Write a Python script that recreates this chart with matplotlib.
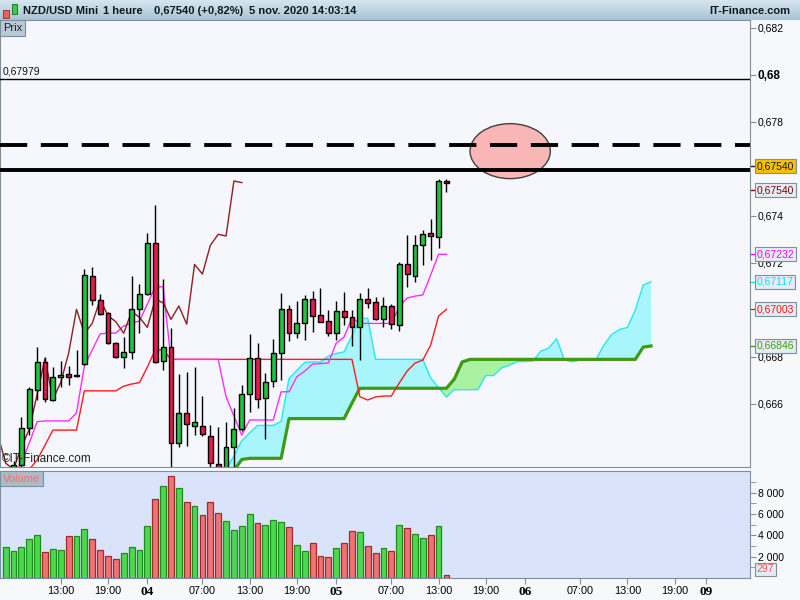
import numpy as np
import matplotlib
matplotlib.use('Agg')
import matplotlib.pyplot as plt
from matplotlib.patches import Ellipse, Rectangle

plt.rcParams['font.family'] = ['Liberation Sans', 'DejaVu Sans']

# hourly candles, 03 nov 06:00 -> 05 nov 14:00 (index 0..56)
opens = [0.6630, 0.6630, 0.6634, 0.66497, 0.66657, 0.66778, 0.66615, 0.66712, 0.66726, 0.66718,
         0.66767, 0.67143, 0.67040, 0.66984, 0.66856, 0.66799, 0.66821, 0.67001, 0.67065, 0.67284,
         0.66782, 0.66839, 0.66431, 0.66561, 0.66506, 0.66506, 0.66460, 0.66342, 0.66300, 0.66414,
         0.66490, 0.66639, 0.66792, 0.66622, 0.66694, 0.66814, 0.67001, 0.66899, 0.66941, 0.67043,
         0.66975, 0.66951, 0.66899, 0.66992, 0.66969, 0.66924, 0.67043, 0.67031, 0.66958, 0.67015,
         0.66934, 0.67192, 0.67144, 0.67273, 0.67324, 0.67310, 0.67547]
highs = [0.6633, 0.66355, 0.66544, 0.66672, 0.66842, 0.66799, 0.66757, 0.66781, 0.66761, 0.66828,
         0.67172, 0.67180, 0.67065, 0.66990, 0.66860, 0.66884, 0.67143, 0.67109, 0.67324, 0.67445,
         0.67130, 0.66920, 0.66726, 0.66734, 0.66757, 0.66632, 0.66509, 0.66499, 0.66520, 0.66580,
         0.66679, 0.66896, 0.66856, 0.66728, 0.66873, 0.67069, 0.67019, 0.67036, 0.67062, 0.67079,
         0.67093, 0.66998, 0.67036, 0.67074, 0.66998, 0.67069, 0.67090, 0.67052, 0.67052, 0.67023,
         0.67203, 0.67317, 0.67317, 0.67338, 0.67384, 0.67554, 0.67555]
lows = [0.6626, 0.6628, 0.6630, 0.66466, 0.66615, 0.66608, 0.66610, 0.66672, 0.66679, 0.66715,
        0.66765, 0.67019, 0.66975, 0.66853, 0.66795, 0.66752, 0.66789, 0.66901, 0.67060, 0.66771,
        0.66743, 0.66300, 0.66416, 0.66420, 0.66466, 0.66460, 0.66300, 0.66290, 0.66280, 0.66300,
        0.66485, 0.66565, 0.66582, 0.66448, 0.66672, 0.66700, 0.66867, 0.66877, 0.66870, 0.66906,
        0.66945, 0.66889, 0.66870, 0.66934, 0.66845, 0.66785, 0.67008, 0.66955, 0.66927, 0.66917,
        0.66910, 0.67097, 0.67118, 0.67189, 0.67211, 0.67260, 0.67500]
closes = [0.6632, 0.6634, 0.66497, 0.66662, 0.66778, 0.66618, 0.66714, 0.66720, 0.66714, 0.66718,
          0.67147, 0.67040, 0.66979, 0.66859, 0.66797, 0.66821, 0.67002, 0.67066, 0.67284, 0.66778,
          0.66839, 0.66431, 0.66558, 0.66513, 0.66520, 0.66469, 0.66346, 0.66321, 0.66414, 0.66490,
          0.66639, 0.66792, 0.66618, 0.66690, 0.66814, 0.67001, 0.66899, 0.66941, 0.67043, 0.66974,
          0.66948, 0.66899, 0.66992, 0.66967, 0.66924, 0.67043, 0.67029, 0.66958, 0.67015, 0.66938,
          0.67192, 0.67151, 0.67273, 0.67320, 0.67313, 0.67547, 0.67540]
volumes = [2880, 2500, 2880, 3625, 4000, 2410, 2690, 2625, 3910, 3910,
           4560, 3625, 2600, 2030, 1750, 2310, 2880, 2600, 4845, 7380,
           8595, 9530, 8410, 7095, 6720, 5875, 7095, 6065, 5315, 4470,
           4845, 5970, 5125, 4940, 5410, 5220, 4750, 3065, 2500, 3250,
           2030, 1940, 2780, 3250, 4375, 4280, 2970, 2310, 2780, 2500,
           4940, 4660, 4100, 3720, 4000, 4845, 297]

# ichimoku lines
tenkan = [0.6628, 0.6630, 0.66347, 0.66432, 0.66523, 0.66526, 0.66526, 0.66526, 0.66526, 0.66560,
          0.66760, 0.66828, 0.66896, 0.66900, 0.66900, 0.66930, 0.66943, 0.66951, 0.67023, 0.67096,
          0.67097, 0.66788, 0.66788, 0.66788, 0.66788, 0.66788, 0.66788, 0.66788, 0.66629, 0.66547,
          0.66466, 0.66530, 0.66530, 0.66530, 0.66530, 0.66650, 0.66650, 0.66714, 0.66738, 0.66768,
          0.66770, 0.66773, 0.66857, 0.66883, 0.66964, 0.66941, 0.66941, 0.66941, 0.66941, 0.66941,
          0.67011, 0.67049, 0.67057, 0.67062, 0.67147, 0.67235, 0.67235]
kijun = [0.6626, 0.6628, 0.6630, 0.6632, 0.66360, 0.66423, 0.66487, 0.66487, 0.66487, 0.66487,
         0.66654, 0.66654, 0.66654, 0.66654, 0.66654, 0.66674, 0.66683, 0.66689, 0.66755, 0.66828,
         0.66828, 0.66788, 0.66788, 0.66788, 0.66788, 0.66788, 0.66788, 0.66788, 0.66788, 0.66788,
         0.66788, 0.66788, 0.66788, 0.66788, 0.66788, 0.66788, 0.66788, 0.66788, 0.66788, 0.66788,
         0.66788, 0.66788, 0.66788, 0.66788, 0.66788, 0.66629, 0.66615, 0.66628, 0.66632, 0.66632,
         0.66687, 0.66738, 0.66772, 0.66785, 0.66849, 0.66972, 0.67001]
chikou_start = -1
chikou = [0.66469, 0.66346, 0.66321, 0.66414, 0.66490, 0.66639, 0.66792, 0.66618, 0.66690, 0.66814,
          0.67001, 0.66899, 0.66941, 0.67043, 0.66974, 0.66948, 0.66899, 0.66992, 0.66967, 0.66924,
          0.67043, 0.67029, 0.66958, 0.67015, 0.66938, 0.67192, 0.67151, 0.67273, 0.67320, 0.67313,
          0.67547, 0.67540]
span_a_start = 26
span_a = [0.6627, 0.6629, 0.66324, 0.66376, 0.66442, 0.66475, 0.66507, 0.66507, 0.66507, 0.66524,
          0.66707, 0.66741, 0.66775, 0.66777, 0.66777, 0.66802, 0.66813, 0.66820, 0.66889, 0.66962,
          0.66963, 0.66788, 0.66788, 0.66788, 0.66788, 0.66788, 0.66788, 0.66788, 0.66709, 0.66668,
          0.66627, 0.66659, 0.66659, 0.66659, 0.66659, 0.66719, 0.66719, 0.66751, 0.66763, 0.66778,
          0.66779, 0.66781, 0.66823, 0.66836, 0.66876, 0.66785, 0.66778, 0.66785, 0.66787, 0.66787,
          0.66849, 0.66894, 0.66915, 0.66924, 0.66998, 0.67104, 0.67118]
span_b_start = 28
span_b = [0.6628, 0.66315, 0.66362, 0.66367, 0.66367, 0.66367, 0.66367, 0.66367,
          0.66536, 0.66536, 0.66536, 0.66536, 0.66536, 0.66536, 0.66536, 0.66536,
          0.66602, 0.66665, 0.66665, 0.66665, 0.66665, 0.66665, 0.66665, 0.66665, 0.66665,
          0.66665, 0.66665, 0.66665, 0.66665, 0.66704, 0.66777,
          0.66788, 0.66788, 0.66788, 0.66788, 0.66788, 0.66788, 0.66788, 0.66788, 0.66788, 0.66788,
          0.66788, 0.66788, 0.66788, 0.66788, 0.66788, 0.66788, 0.66788, 0.66788, 0.66788, 0.66788,
          0.66788, 0.66788, 0.66840, 0.66845]

# drawn levels
level_top = 0.67979
level_dash = 0.67700
level_solid = 0.67594
circle_center = (64.1, 0.67674)

tick_pos = [7, 13, 18, 25, 31, 37, 42, 49, 55, 61, 66, 73, 79, 85, 89]
tick_lab = ['13:00', '19:00', '04', '07:00', '13:00', '19:00', '05', '07:00', '13:00', '19:00',
            '06', '07:00', '13:00', '19:00', '09']
day_labels = ['04', '05', '06', '09']

price_ticks = [0.682, 0.680, 0.678, 0.674, 0.672, 0.668, 0.666]
price_tick_lab = ['0,682', '0,68', '0,678', '0,674', '0,672', '0,668', '0,666']
vol_ticks = [2000, 4000, 6000, 8000]
vol_tick_lab = ['2 000', '4 000', '6 000', '8 000']

x = np.arange(len(closes))
o = np.array(opens); c = np.array(closes)
up = c >= o

W, H = 800, 600
fig = plt.figure(figsize=(8, 6), dpi=100, facecolor='#f7f8fa')
border = '#7d8e9c'

# title bar
tb = fig.add_axes([0, 1 - 20 / H, 1, 20 / H])
grad = np.linspace(0, 1, 50).reshape(-1, 1)
tb.imshow(grad, aspect='auto', cmap=matplotlib.colors.LinearSegmentedColormap.from_list('t', ['#d6e6f0', '#a9c4d3']),
          extent=[0, 1, 0, 1])
tb.set_xlim(0, 1); tb.set_ylim(0, 1); tb.axis('off')
tb.add_patch(Rectangle((3 / W, 0.12), 6 / W, 0.38, facecolor='#f06060', edgecolor='#803030', lw=0.6))
tb.add_patch(Rectangle((12 / W, 0.3), 5 / W, 0.5, facecolor='#30d040', edgecolor='#206020', lw=0.6))
for xp, s in [(23, 'NZD/USD Mini'), (103, '1 heure'), (154, '0,67540 (+0,82%)'), (249, '5 nov. 2020 14:03:14')]:
    tb.text(xp / W, 0.47, s, fontsize=8, fontweight='bold', color='#101820', va='center')
tb.text(790 / W, 0.47, 'IT-Finance.com', fontsize=8, fontweight='bold', color='#101820', va='center', ha='right')

# price panel
ax = fig.add_axes([0, 1 - 467 / H, 750 / W, (467 - 20) / H])
ax.set_facecolor('#f5f7fd')
ax.set_xlim(-0.72, 94.57)
ax.set_ylim(0.66330, 0.68232)

xa = np.arange(span_a_start, span_a_start + len(span_a))
xb = np.arange(span_b_start, span_b_start + len(span_b))
a_al = np.array(span_a[span_b_start - span_a_start:])
b_al = np.array(span_b)
ax.fill_between(xb, a_al, b_al, where=a_al >= b_al, interpolate=True, color='#a8f5fb', lw=0, zorder=1)
ax.fill_between(xb, a_al, b_al, where=a_al < b_al, interpolate=True, color='#a9f2a2', lw=0, zorder=1)
ax.plot(xa, span_a, color='#28e6f2', lw=1, zorder=2)
ax.plot(xb, span_b, color='#3e9a12', lw=2.3, zorder=2)
ax.plot(x, kijun, color='#ff1c1c', lw=1, zorder=2)
ax.plot(x, tenkan, color='#ff2cff', lw=1, zorder=2)
ax.plot(np.arange(chikou_start, chikou_start + len(chikou)), chikou, color='#8e1f1f', lw=1, zorder=2)

# candles
ax.vlines(x, lows, highs, color='black', lw=1, zorder=3)
body_h = np.maximum(np.abs(c - o), 0.00003)
ax.bar(x, body_h, bottom=np.minimum(o, c), width=0.62,
       color=np.where(up, '#1ec63e', '#e8194c'), edgecolor='black', lw=1, zorder=4)

# drawn objects
ax.add_patch(Ellipse(circle_center, 10.2, 0.00234, facecolor='#f8b6b6', edgecolor='#404040', lw=1, zorder=5))
ax.axhline(level_top, color='black', lw=1, zorder=6)
ax.axhline(level_dash, color='black', lw=2.8, ls=(0, (7, 3.5)), zorder=6)
ax.axhline(level_solid, color='black', lw=2.8, zorder=6)
ax.text(0.003, level_top + 0.00012, '0,67979', transform=ax.get_yaxis_transform(),
        fontsize=7.5, color='#101010', va='bottom')
ax.text(0.003, 0.663395, '©IT-Finance.com', transform=ax.get_yaxis_transform(), fontsize=8.5,
        color='#202020', va='bottom', zorder=7)

ax.yaxis.tick_right()
ax.set_yticks(price_ticks)
ax.set_yticklabels(price_tick_lab, fontsize=7.5)
for lab in ax.get_yticklabels():
    if lab.get_text() == '0,68':
        lab.set_fontweight('bold'); lab.set_fontsize(8.5)
ax.tick_params(axis='y', direction='out', length=4, color=border, pad=1.5)
ax.set_xticks([])
for s in ax.spines.values():
    s.set_color(border)

ax.text(0.004, 0.993, 'Prix', transform=ax.transAxes, fontsize=8, va='top', ha='left', color='#202020',
        bbox=dict(boxstyle='square,pad=0.25', facecolor='#b9cad6', edgecolor=border, lw=0.8))

# value labels on the right
labels = [(0.67610, '0,67540', '#1a1a1a', '#f8c000'),
          (0.67508, '0,67540', '#8b0000', '#e6ecf6'),
          (tenkan[-1], '0,67232', '#ff00ff', '#e6ecf6'),
          (span_a[-1], '0,67117', '#00e4f0', '#e6ecf6'),
          (kijun[-1], '0,67003', '#ff1010', '#e6ecf6'),
          (span_b[-1], '0,66846', '#3ca010', '#e6ecf6')]
for yv, s, tc, bg in labels:
    ax.text(1.0085, yv, s, transform=ax.get_yaxis_transform(), fontsize=7.5, color=tc, va='center',
            ha='left', clip_on=False, zorder=10,
            bbox=dict(boxstyle='square,pad=0.18', facecolor=bg, edgecolor=border, lw=0.8))
    ax.plot([1.0, 1.0075], [yv, yv], transform=ax.get_yaxis_transform(), color=tc, lw=1, clip_on=False)

# volume panel
av = fig.add_axes([0, 1 - 578 / H, 750 / W, (578 - 471) / H])
av.set_facecolor('#d9e4fb')
av.set_xlim(-0.72, 94.57)
av.set_ylim(0, 10030)
av.bar(x, volumes, width=0.74, color=np.where(up, '#4ed84e', '#ec7474'),
       edgecolor=np.where(up, '#1f8c1f', '#a32a2a'), lw=0.9, zorder=3)
av.yaxis.tick_right()
av.set_yticks(vol_ticks)
av.set_yticklabels(vol_tick_lab, fontsize=7.5)
av.set_yticks([1000, 3000, 5000, 7000, 9000], minor=True)
av.tick_params(axis='y', which='both', direction='out', length=4, color=border, pad=1.5)
av.set_xticks(tick_pos)
av.set_xticklabels(tick_lab, fontsize=7.8)
av.tick_params(axis='x', direction='out', length=4, color=border, pad=2)
for lab in av.get_xticklabels():
    if lab.get_text() in day_labels:
        lab.set_fontweight('bold'); lab.set_fontsize(9.5); lab.set_family('Liberation Serif')
for s in av.spines.values():
    s.set_color(border)
av.text(0.004, 0.975, 'Volume', transform=av.transAxes, fontsize=8, va='top', ha='left', color='#f07070',
        bbox=dict(boxstyle='square,pad=0.25', facecolor='#a9bcc8', edgecolor=border, lw=0.8))
av.text(1.0085, volumes[-1] + 500, '297', transform=av.get_yaxis_transform(), fontsize=7.5, color='#ee5a5a',
        va='center', ha='left', clip_on=False,
        bbox=dict(boxstyle='square,pad=0.18', facecolor='#e6ecf6', edgecolor=border, lw=0.8))

fig.savefig('out.png', dpi=100, facecolor=fig.get_facecolor())
